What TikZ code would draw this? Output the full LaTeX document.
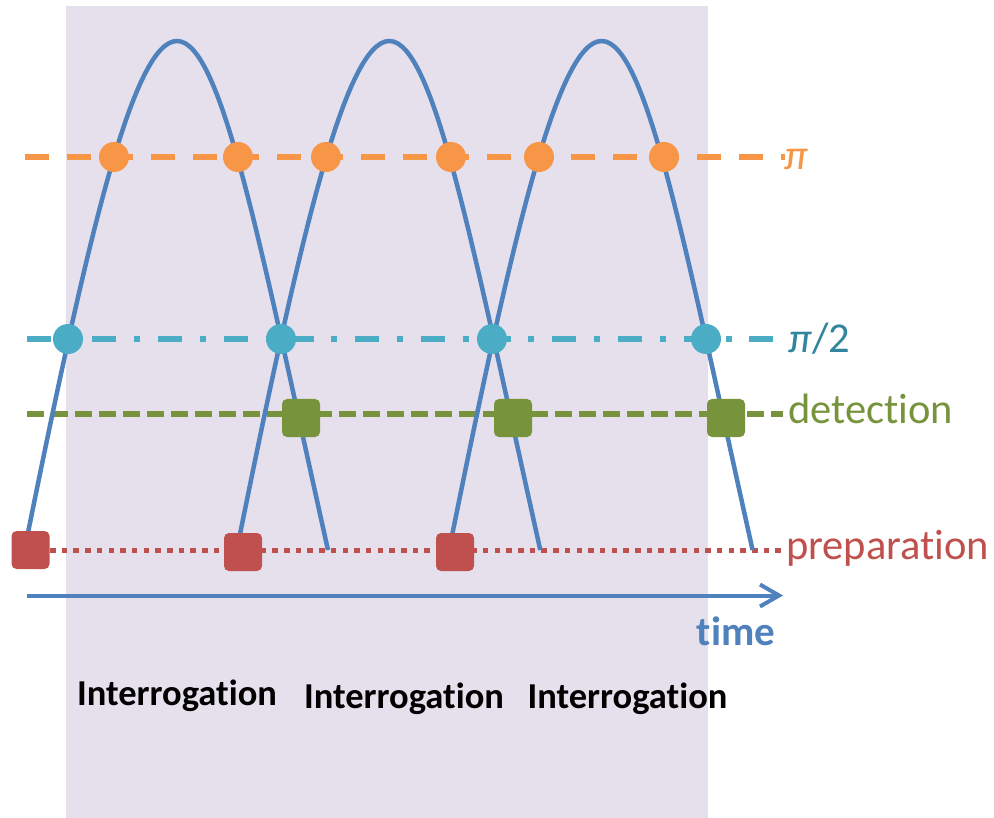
\documentclass[tikz,border=0pt]{standalone}
\usepackage{fontspec}
\setmainfont[Ligatures=NoCommon]{Carlito}
\usetikzlibrary{arrows.meta}
\definecolor{bgc}{HTML}{E5E0EC}
\definecolor{curvec}{HTML}{4F81BD}
\definecolor{orangec}{HTML}{F79646}
\definecolor{tealc}{HTML}{4BACC6}
\definecolor{tealtext}{HTML}{31859C}
\definecolor{greenc}{HTML}{77933C}
\definecolor{redc}{HTML}{C0504D}
\begin{document}
\begin{tikzpicture}[x=1pt,y=-1pt,
  curve/.style={draw=curvec, line width=4.5pt, line join=round},
  piline/.style={draw=orangec, line width=6pt, dash pattern=on 24pt off 18pt},
  halfline/.style={draw=tealc, line width=6pt, dash pattern=on 24pt off 17.8pt on 6pt off 17.9pt},
  detline/.style={draw=greenc, line width=6pt, dash pattern=on 17.3pt off 6.7pt},
  prepline/.style={draw=redc, line width=5pt, dash pattern=on 5.5pt off 6.2pt},
  timeline/.style={draw=curvec, line width=4pt, -{Straight Barb[length=19pt,width=22pt]}},
  pidot/.style={circle, fill=orangec, minimum size=30pt, inner sep=0pt},
  halfdot/.style={circle, fill=tealc, minimum size=30pt, inner sep=0pt},
  detbox/.style={rectangle, rounded corners=5pt, fill=greenc, minimum size=38pt, inner sep=0pt},
  prepbox/.style={rectangle, rounded corners=5pt, fill=redc, minimum size=38pt, inner sep=0pt},
  lbl/.style={inner sep=0pt, anchor=base west, font=\fontsize{42.5}{48}\selectfont},
  ilbl/.style={inner sep=0pt, anchor=base, font=\fontsize{36.5}{42}\selectfont\bfseries},
]
\useasboundingbox (0,0) rectangle (994,818);
% background
\fill[bgc] (66,6) rectangle (708,818);

% horizontal levels
\coordinate (piL) at (25,157);
\coordinate (piR) at (785,157);
\coordinate (hL) at (26.7,339);
\coordinate (hR) at (776,339);
\coordinate (dL) at (26.7,414.5);
\coordinate (dR) at (783,414.5);
\coordinate (pL) at (26.6,550);
\coordinate (pR) at (783,550);
\coordinate (tL) at (26.7,595.5);
\coordinate (tR) at (783,595.5);

\draw[piline] (piL) -- (piR);
\draw[halfline] (hL) -- (hR);
\draw[detline] (dL) -- (dR);
\draw[prepline] (pL) -- (pR);
\draw[timeline] (tL) -- (tR);

% oscillation curves
\foreach \c in {177,389.3,601.6}{
  \draw[curve] ({\c-152.5},550) .. controls ({\c-92},250) and ({\c-45},41) .. ({\c},41)
    .. controls ({\c+45},41) and ({\c+84},250) .. ({\c+151},550);
}

% pi markers
\node[pidot] (o1) at (114,157) {};
\node[pidot] (o2) at (238,157) {};
\node[pidot] (o3) at (326,157) {};
\node[pidot] (o4) at (451,157) {};
\node[pidot] (o5) at (539,157) {};
\node[pidot] (o6) at (664,157) {};
% pi/2 markers
\node[halfdot] (h1) at (68,339) {};
\node[halfdot] (h2) at (281,339) {};
\node[halfdot] (h3) at (492,339) {};
\node[halfdot] (h4) at (706,339) {};
% detection markers
\node[detbox] (d1) at (301,418) {};
\node[detbox] (d2) at (513,418) {};
\node[detbox] (d3) at (726,418) {};
% preparation markers
\node[prepbox] (p1) at (30.5,550) {};
\node[prepbox] (p2) at (243,552) {};
\node[prepbox] (p3) at (455,552) {};

% labels
\node[lbl, text=orangec] (pilabel) at (784,170) {\itshape π};
\node[lbl, text=tealtext] (halflabel) at (788,353) {\textit{π}/2};
\node[lbl, text=greenc] (detlabel) at (788,424) {detection};
\node[lbl, text=redc] (preplabel) at (786,559) {preparation};
\node[inner sep=0pt, anchor=base, text=curvec, font=\fontsize{41}{48}\selectfont\bfseries] (timelabel) at (736,645) {time};

\node[ilbl] (int1) at (177,705) {Interrogation};
\node[ilbl] (int2) at (404,708) {Interrogation};
\node[ilbl] (int3) at (627.5,708) {Interrogation};
\end{tikzpicture}
\end{document}
